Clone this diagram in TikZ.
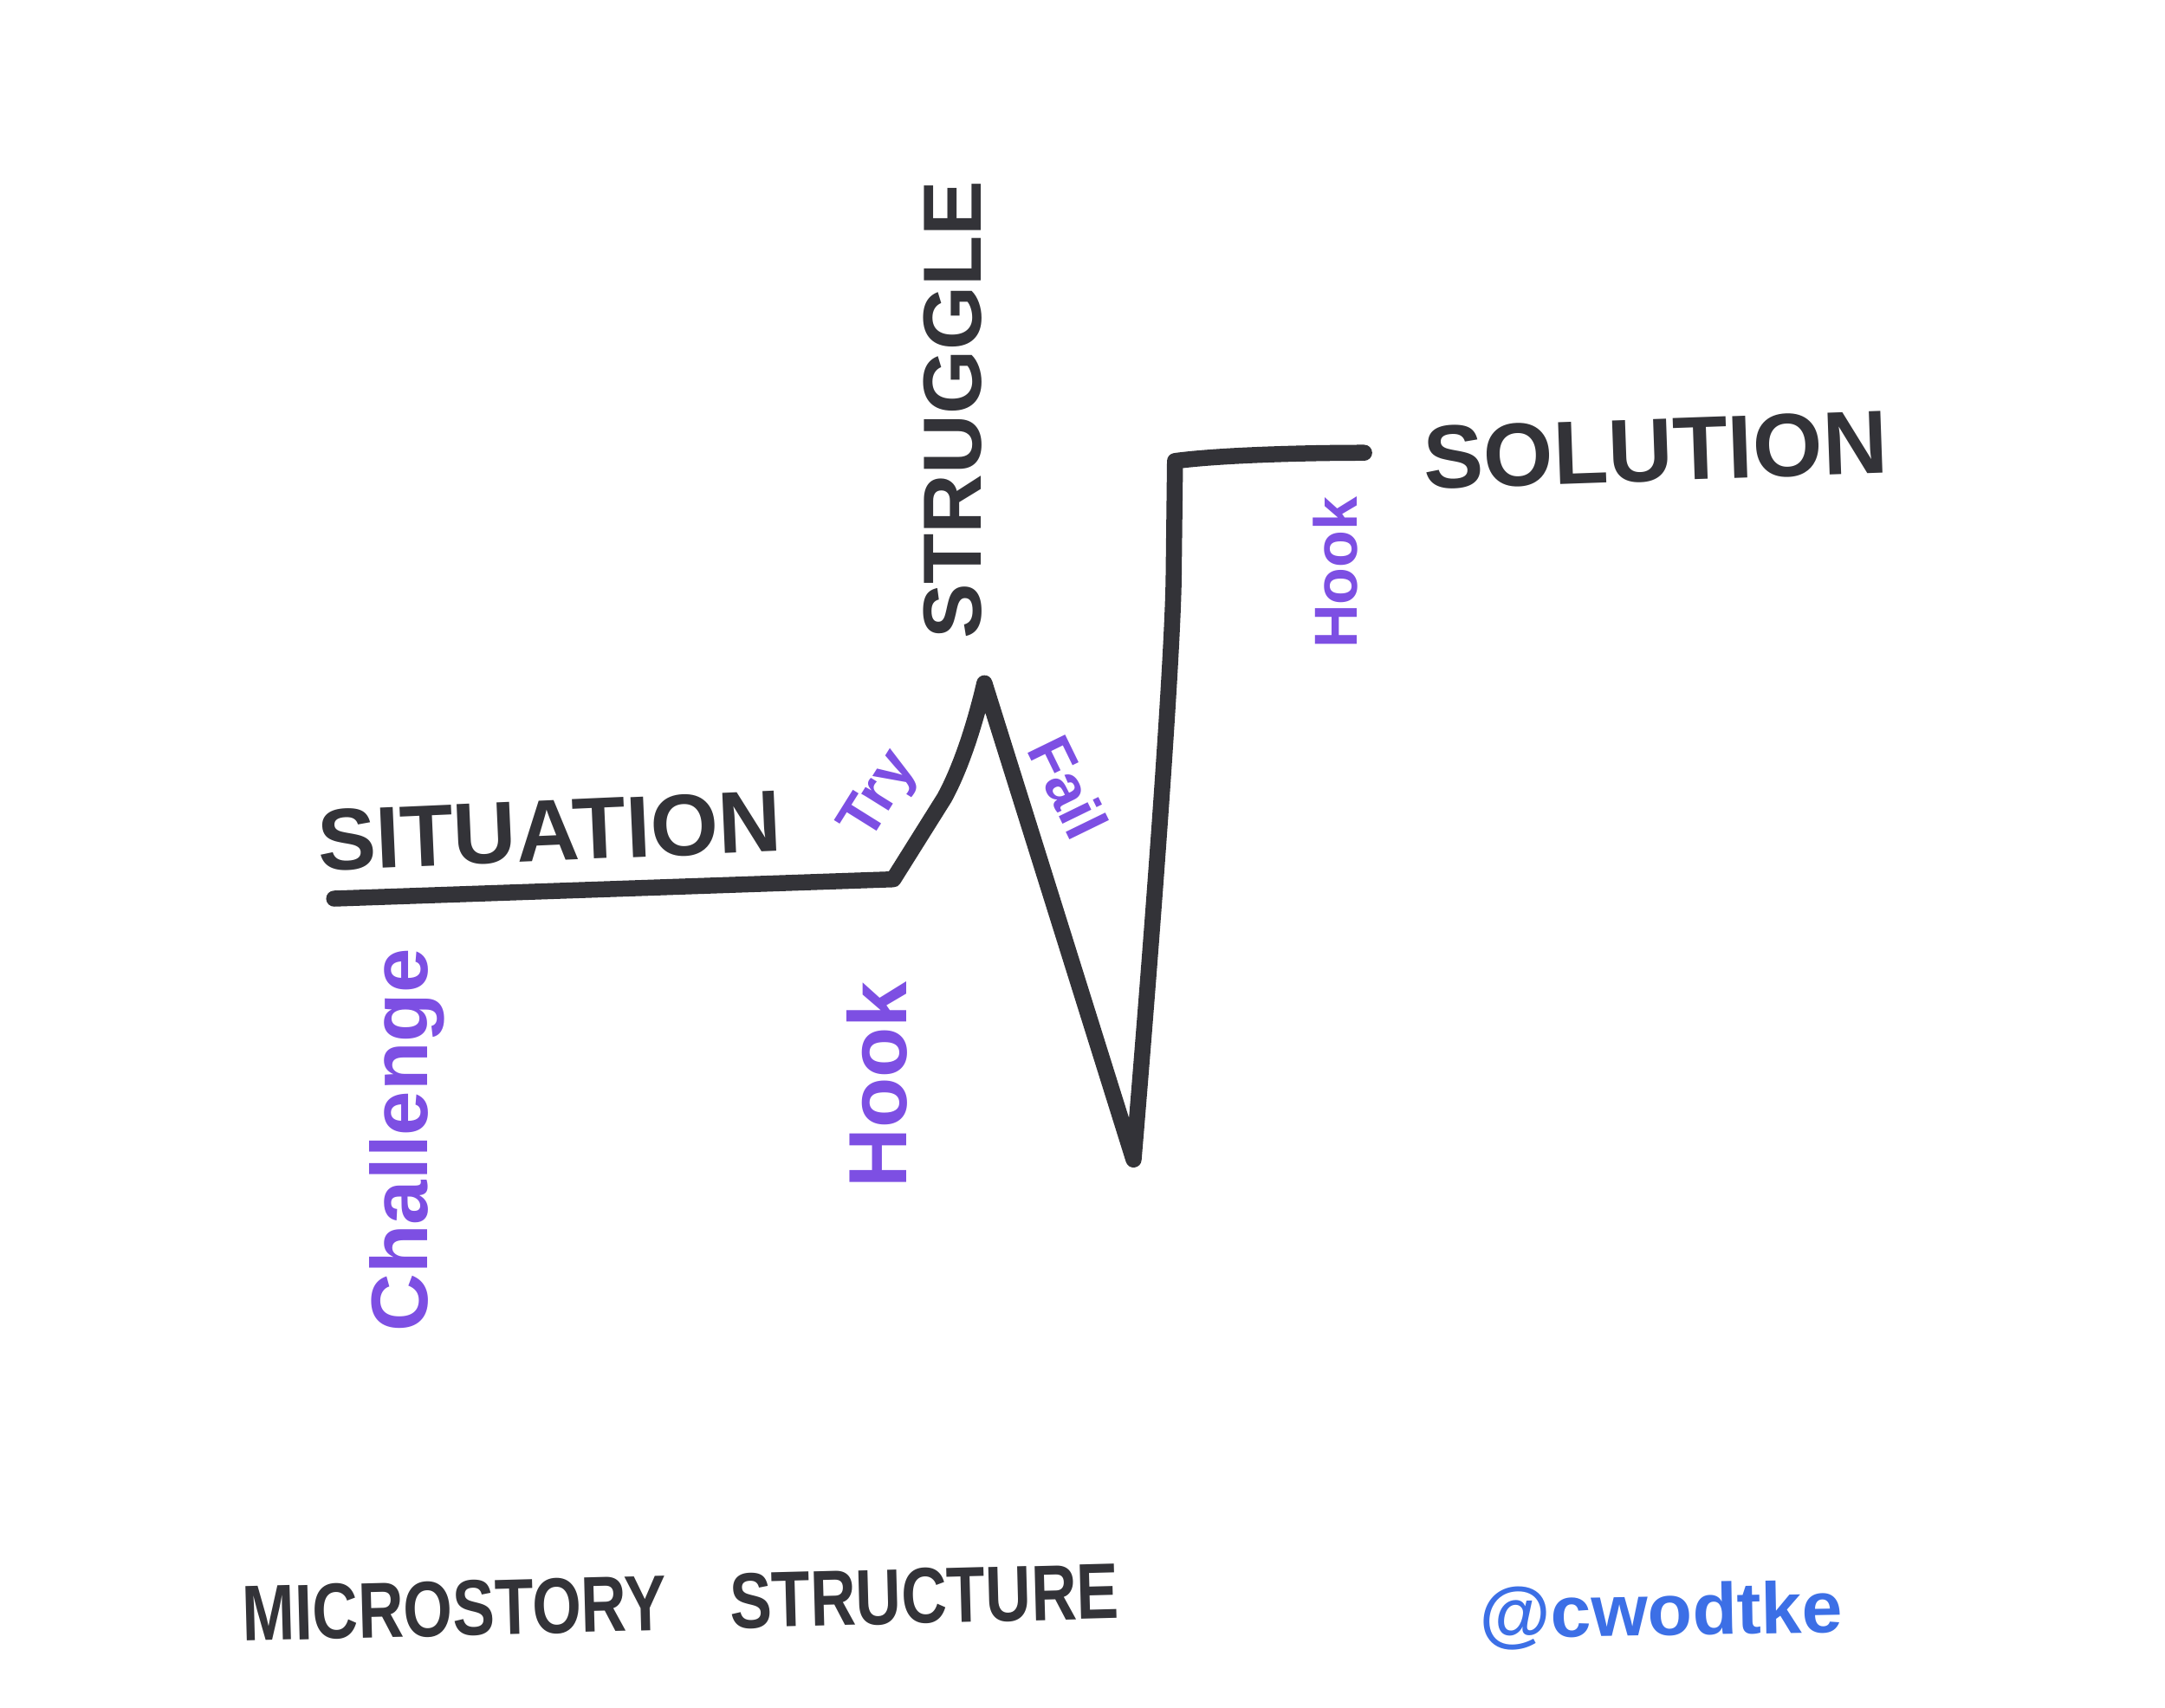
\documentclass[tikz,border=0pt]{standalone}
\usepackage{fontspec}
\setmainfont{Liberation Sans}
\definecolor{inkblack}{HTML}{333338}
\definecolor{inkpurple}{HTML}{7D4FE3}
\definecolor{inkblue}{HTML}{3C6FE6}
\tikzset{
  marker/.style={draw=inkblack, line width=3.3pt, line cap=round, line join=round},
  blacktext/.style={text=inkblack, inner sep=0pt, font=\bfseries},
  purpletext/.style={text=inkpurple, inner sep=0pt, font=\bfseries},
  bluetext/.style={text=inkblue, inner sep=0pt, font=\bfseries},
}
\begin{document}
\begin{tikzpicture}[x=0.01cm, y=-0.01cm]
\fill[white] (0,0) rectangle (1568,1237);
\useasboundingbox (0,0) rectangle (1568,1237);

% the story line
\coordinate (start) at (242,651);
\coordinate (hookcorner) at (647,637);
\coordinate (peak) at (713,495);
\coordinate (bottom) at (821,840);
\coordinate (topcorner) at (851,334);
\coordinate (finish) at (988,328);

\draw[marker] (start) -- (hookcorner) -- (684,578)
  .. controls (696,556) and (706,525) .. (peak)
  -- (760,645) -- (bottom)
  .. controls (836,660) and (849,480) .. (850,420) -- (topcorner)
  .. controls (880,330) and (940,328) .. (finish);

% labels
\node[blacktext, rotate=2.5] (situation) at (398,602) {\fontsize{18}{20}\selectfont SITUATION};
\node[blacktext, rotate=2] (solution) at (1199,326) {\fontsize{18.5}{20}\selectfont SOLUTION};
\node[blacktext, rotate=90] (struggle) at (690,297) {\fontsize{17}{20}\selectfont STRUGGLE};
\node[purpletext, rotate=90] (challenge) at (295,826) {\fontsize{16.5}{20}\selectfont Challenge};
\node[purpletext, rotate=90] (hookA) at (635,786) {\fontsize{17}{20}\selectfont Hook};
\node[purpletext, rotate=90] (hookB) at (967,415) {\fontsize{12.5}{14}\selectfont Hook};
\node[purpletext, rotate=58] (try) at (638,577) {\fontsize{12.5}{14}\selectfont Try};
\node[purpletext, rotate=-64] (fail) at (774,570) {\fontsize{12.5}{14}\selectfont Fail};
\node[blacktext, rotate=1.5] (title) at (493,1161) {\fontsize{13}{15}\selectfont\scalebox{1}[1.25]{MICROSTORY\hspace{1em}STRUCTURE}};
\node[bluetext, rotate=1] (handle) at (1203,1170) {\fontsize{15}{18}\selectfont @cwodtke};
\end{tikzpicture}
\end{document}
